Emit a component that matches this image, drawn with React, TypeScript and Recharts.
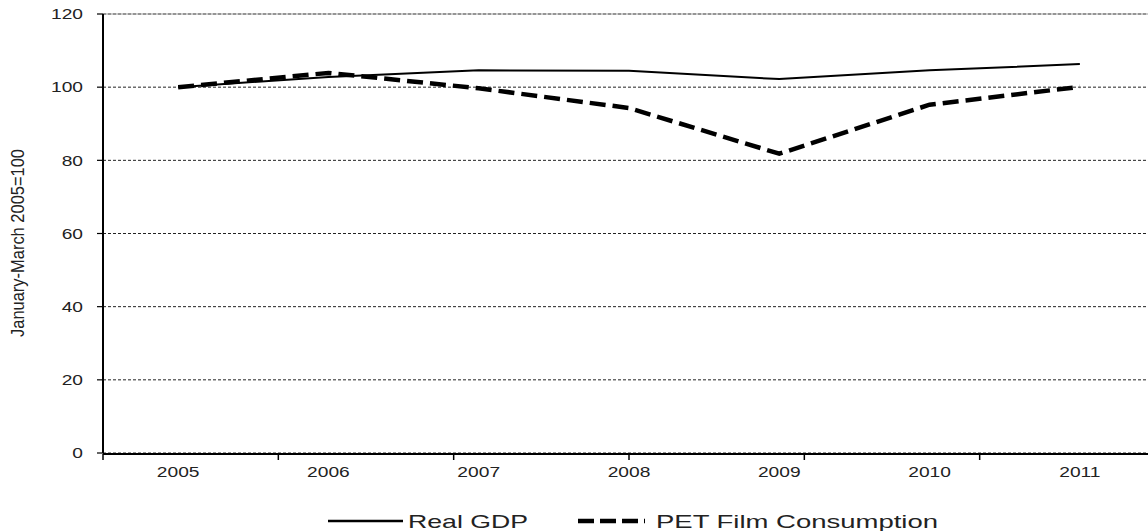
import React from 'react';
import { LineChart, Line, XAxis, YAxis, CartesianGrid, Legend, ReferenceLine } from 'recharts';

const years = ['2005', '2006', '2007', '2008', '2009', '2010', '2011'];
const realGdp = [100, 102.8, 104.6, 104.5, 102.2, 104.6, 106.3];
const petFilm = [100, 103.9, 99.7, 94.3, 81.8, 95.2, 100.1];
const yTicks = [0, 20, 40, 60, 80, 100, 120];
const boundaryTicks = [0, 1, 2, 3, 4, 5, 6, 7];
const seriesNames = ['Real GDP', 'PET Film Consumption'];
const yTitle = 'January-March 2005=100';

const data = years.map((y, i) => ({ year: y, gdp: realGdp[i], pet: petFilm[i] }));

const FONT = '"Liberation Sans", Arial, Helvetica, sans-serif';

const XTick = (props: any) => {
  const { x, y, payload } = props;
  return (
    <g transform={`translate(${x},${y}) scale(1.28,1)`}>
      <text x={0} y={0} dy="0.71em" textAnchor="middle" fontSize={15} fontFamily={FONT} fill="#222">
        {payload.value}
      </text>
    </g>
  );
};

const YTick = (props: any) => {
  const { x, y, payload } = props;
  return (
    <g transform={`translate(${x},${y}) scale(1.28,1)`}>
      <text x={0} y={0} dy="0.355em" textAnchor="end" fontSize={15} fontFamily={FONT} fill="#222">
        {payload.value}
      </text>
    </g>
  );
};

const EmptyTick = () => <g />;

const YTitle = (props: any) => {
  const vb = props.viewBox || { x: 0, y: 14, width: 103, height: 439 };
  const cx = vb.x + 18.5;
  const cy = vb.y + vb.height / 2 + 9.5;
  return (
    <g transform={`translate(${cx},${cy}) scale(1.15,1) rotate(-90)`}>
      <text x={0} y={5} textAnchor="middle" fontSize={16} fontFamily={FONT} fill="#222" textLength={188} lengthAdjust="spacingAndGlyphs">
        {yTitle}
      </text>
    </g>
  );
};

const LegendContent = () => (
  <svg width={1052} height={38} style={{ display: 'block' }}>
    <line x1={225} x2={300} y1={28} y2={28} stroke="#000" strokeWidth={2.5} />
    <text x={305} y={34.6} fontSize={18.5} fontFamily={FONT} fill="#222" textLength={120} lengthAdjust="spacingAndGlyphs">
      {seriesNames[0]}
    </text>
    <line x1={475} x2={542} y1={28} y2={28} stroke="#000" strokeWidth={4.5} strokeDasharray="16 6" />
    <text x={553} y={34.6} fontSize={18.5} fontFamily={FONT} fill="#222" textLength={282} lengthAdjust="spacingAndGlyphs">
      {seriesNames[1]}
    </text>
  </svg>
);

export default function App() {
  return (
    <div style={{ position: 'absolute', left: 0, top: 0, width: 1148, height: 531, overflow: 'hidden', background: '#fff' }}>
      <LineChart width={1160} height={531} data={data} margin={{ top: 14, right: 5, left: 0, bottom: 0 }}>
        <CartesianGrid vertical={false} strokeDasharray="3 2" stroke="#222" />
        <ReferenceLine y={120} stroke="#9a9a9a" strokeWidth={1.2} />
        <XAxis
          dataKey="year"
          scale="band"
          tickLine={false}
          axisLine={false}
          height={1}
          tickSize={0}
          tickMargin={13}
          interval={0}
          tick={<XTick />}
        />
        <XAxis
          xAxisId="frame"
          type="number"
          domain={[0, 7]}
          ticks={boundaryTicks}
          tick={<EmptyTick />}
          tickSize={6}
          height={39}
          axisLine={{ stroke: '#000', strokeWidth: 2 }}
          tickLine={{ stroke: '#000', strokeWidth: 1.5 }}
          allowDataOverflow
        />
        <YAxis
          width={103}
          domain={[0, 120]}
          ticks={yTicks}
          tickSize={6}
          tickMargin={14}
          axisLine={{ stroke: '#000', strokeWidth: 2 }}
          tickLine={{ stroke: '#000', strokeWidth: 1.2 }}
          tick={<YTick />}
          label={{ content: (p: any) => <YTitle {...p} /> }}
        />
        <Legend verticalAlign="bottom" wrapperStyle={{ left: 103, width: 1052, height: 38 }} content={() => <LegendContent />} />
        <Line type="linear" dataKey="gdp" stroke="#000" strokeWidth={2} dot={false} isAnimationActive={false} />
        <Line type="linear" dataKey="pet" stroke="#000" strokeWidth={4.5} strokeDasharray="16 7" dot={false} isAnimationActive={false} />
      </LineChart>
    </div>
  );
}
